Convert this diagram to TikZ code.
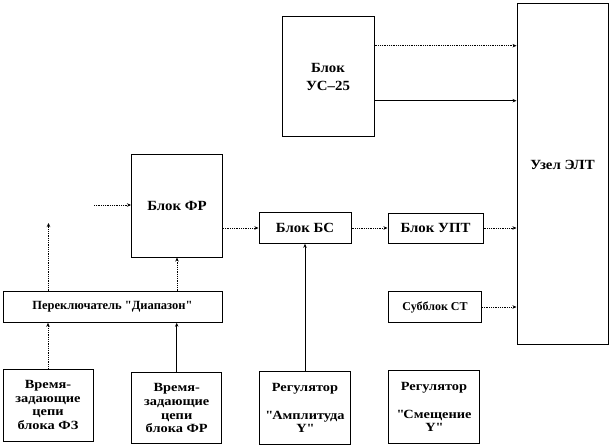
\documentclass[tikz,border=0pt]{standalone}
\usepackage{fontspec}
\setmainfont{Liberation Serif}
\newfontfamily\wideserif[FakeStretch=1.15]{Liberation Serif}
\newfontfamily\midserif[FakeStretch=1.06]{Liberation Serif}
\usetikzlibrary{arrows.meta}
\begin{document}
\begin{tikzpicture}[x=1pt,y=-1pt,
  box/.style={draw=black, line width=1pt, fill=white, rectangle, align=center,
    inner sep=1pt, font=\midserif\fontsize{14}{18}\selectfont\bfseries},
  smallbox/.style={box, font=\fontsize{12.5}{14}\selectfont\bfseries},
  lowbox/.style={box, font=\wideserif\fontsize{12.5}{13.6}\selectfont\bfseries},
  conn/.style={draw=black, line width=0.8pt, -{Stealth[length=4pt,width=3.5pt]}},
  dconn/.style={conn, densely dotted},
]
\useasboundingbox (0,0) rectangle (611,447);
\node[box, minimum width=91pt, minimum height=341pt] (elt) at (562.5,173.5) {Узел ЭЛТ\\[-1pt]};
\node[box, minimum width=92pt, minimum height=120pt] (us) at (328,76.7) {Блок\\УС–25};
\node[box, minimum width=91pt, minimum height=103pt] (fr) at (177,205.5) {Блок ФР};
\node[box, minimum width=92pt, minimum height=30.6pt] (bs) at (305,228) {Блок БС};
\node[box, minimum width=95pt, minimum height=30pt] (upt) at (435.5,228) {Блок УПТ};
\node[smallbox, font=\fontsize{12}{14}\selectfont\bfseries, minimum width=93pt, minimum height=30.5pt] (st) at (435,307) {Субблок СТ};
\node[smallbox, minimum width=219pt, minimum height=30.6pt] (per) at (112.5,307) {Переключатель \textquotedbl Диапазон\textquotedbl};
\node[lowbox, minimum width=90pt, minimum height=72pt] (t1) at (48,405) {Время-\\задающие\\цепи\\блока ФЗ};
\node[lowbox, minimum width=90pt, minimum height=71.3pt] (t2) at (176.7,408.3) {Время-\\задающие\\цепи\\блока ФР};
\node[lowbox, minimum width=91pt, minimum height=72.6pt] (r1) at (305,408) {Регулятор\\[14pt]\textquotedbl Амплитуда\\Y\textquotedbl};
\node[lowbox, minimum width=91pt, minimum height=73.3pt] (r2) at (434,407.3) {Регулятор\\[14pt]\textquotedbl Смещение\\Y\textquotedbl};

\coordinate (inFR) at (94,205);
\coordinate (up1) at (48.5,223);
\coordinate (usA) at (374,45.7);
\coordinate (usB) at (374,100.7);

\draw[dconn] (inFR) -- (inFR -| fr.west);
\draw[dconn] (per.north -| up1) -- (up1);
\draw[dconn] (per.north -| fr.south) -- (fr.south);
\draw[dconn] (fr.east |- bs.west) -- (bs.west);
\draw[dconn] (bs.east) -- (upt.west);
\draw[dconn] (upt.east) -- (upt.east -| elt.west);
\draw[dconn] (st.east) -- (st.east -| elt.west);
\draw[dconn] (usA -| us.east) -- (usA -| elt.west);
\draw[conn] (usB -| us.east) -- (usB -| elt.west);
\draw[dconn] (t1.north) -- (t1.north |- per.south);
\draw[conn] (t2.north) -- (t2.north |- per.south);
\draw[conn] (r1.north) -- (bs.south);
\end{tikzpicture}
\end{document}
